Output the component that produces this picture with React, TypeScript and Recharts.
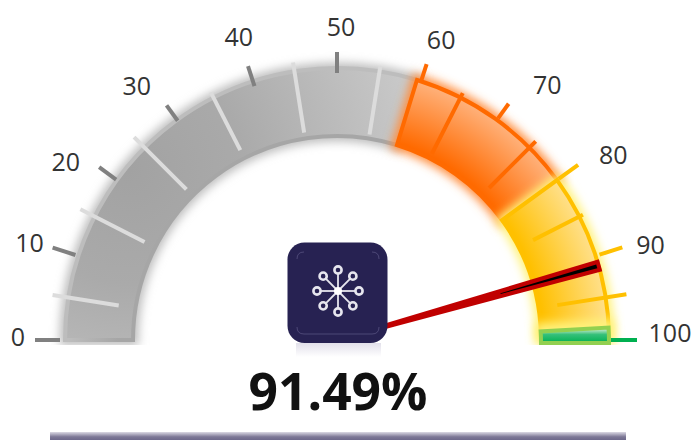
import { PieChart, Pie, Sector } from "recharts";

const segmentValues = [59.5, 20.5, 18.2, 1.8];
const scaleSteps = [0, 10, 20, 30, 40, 50, 60, 70, 80, 90];
const scaleMax = 100;
const needleValue = 91.2;
const readout = "91.49%";

const CX = 337;
const CY = 340;
const INNER = 204;
const OUTER = 272;

const SEGMENT_FILLS = ["url(#greyFill)", "url(#orangeFill)", "url(#yellowFill)", "url(#greenFill)"];
const SEGMENT_STROKES = ["url(#greyStroke)", "#ff6a00", "#ffc000", "#92d050"];
const GLOW_COLORS = ["#bdbdbd", "#ff8f40", "#fff27a", "#fff27a"];
// the green cap hangs a little under the baseline, the yellow runs on beneath it
const SEGMENT_SHIFT = [0, 0, 0, 3];
const SEGMENT_TRIM = [0, 0, 2, 0];

// the original's ticks are hand placed, so reach differs per tick
const MAJOR_FROM = [277, 275, 273, 271, 267, 267, 273, 274, 274, 276, 274];
const MAJOR_TO = [302, 299, 294, 290, 288, 288, 290, 292, 298, 300, 300];
const MINOR_FROM = [221, 216, 213, 213, 210, 208, 209, 215, 220, 223];
const MINOR_TO = [288, 288, 287, 278, 281, 277, 277, 281, 276, 293];
const LABEL_SHIFT = [
  [3, -4],
  [2, -11],
  [-1, -8],
  [2, -11],
  [9, -7],
  [-1, 2],
  [-13, -4],
  [-2, -12],
  [-4, -15],
  [-6, -9],
  [1, -8],
];

const point = (angle: number, r: number, cx = CX, cy = CY) => ({
  x: cx + r * Math.cos((angle * Math.PI) / 180),
  y: cy - r * Math.sin((angle * Math.PI) / 180),
});

const valueColor = (v: number, grey: string) => {
  if (v >= 100) return "#00b050";
  if (v >= 80) return "#ffc000";
  if (v >= 60) return "#ff6a00";
  return grey;
};

const BandShape = (props: any) => {
  const { payload, endAngle } = props;
  const sector = { ...props, endAngle: endAngle - payload.trim };
  return (
    <g>
      <g clipPath="url(#bandClip)">
        <Sector {...sector} fill={payload.glow} stroke={payload.glow} strokeWidth={11} filter="url(#glow)" />
      </g>
      <g transform={`translate(0 ${payload.shift})`}>
        <Sector {...sector} fill={payload.fill} stroke={payload.stroke} strokeWidth={4} />
      </g>
    </g>
  );
};

const MajorTick = ({ value, angle }: { value: number; angle: number }) => {
  const i = value / 10;
  const start = point(angle, MAJOR_FROM[i]);
  const end = point(angle, MAJOR_TO[i]);
  // labels lag the tick angle a little away from the ends and the top
  const labelRad = ((angle - 3.5 * Math.sin((2 * angle * Math.PI) / 180)) * Math.PI) / 180;
  const x = 342 + 327 * Math.cos(labelRad) + LABEL_SHIFT[i][0];
  const y = CY - 316 * Math.sin(labelRad) + LABEL_SHIFT[i][1];
  return (
    <g>
      <line x1={start.x} y1={start.y} x2={end.x} y2={end.y} stroke={valueColor(value, "#808080")} strokeWidth={4} />
      <text
        x={x}
        y={y}
        textAnchor="middle"
        dominantBaseline="central"
        fontFamily="'Open Sans', sans-serif"
        fontSize={25}
        fill="#333"
      >
        {value}
      </text>
    </g>
  );
};

const TickShape = (props: any) => {
  const { startAngle, endAngle, payload } = props;
  const value = payload.step;
  const i = value / 10;
  const mid = (startAngle + endAngle) / 2;
  const a = point(mid, MINOR_FROM[i]);
  const b = point(mid, MINOR_TO[i]);
  return (
    <g>
      <line x1={a.x} y1={a.y} x2={b.x} y2={b.y} stroke={valueColor(value + 5, "#dcdcdc")} strokeWidth={4} />
      <MajorTick value={value} angle={startAngle} />
      {value + 10 === scaleMax && <MajorTick value={scaleMax} angle={endAngle} />}
    </g>
  );
};

const NeedleShape = (props: any) => {
  if (props.payload.hidden) return null;
  const angle = props.endAngle;
  const along = (r: number, w: number) => {
    const p = point(angle, r);
    const nx = Math.sin((angle * Math.PI) / 180) * w;
    const ny = Math.cos((angle * Math.PI) / 180) * w;
    return [`${p.x + nx},${p.y + ny}`, `${p.x - nx},${p.y - ny}`];
  };
  const [a1, a2] = along(40, 2.6);
  const [b1, b2] = along(274, 6.2);
  const [c1, c2] = along(170, 0.3);
  const [d1, d2] = along(270, 2);
  return (
    <g>
      <polygon points={`${a1} ${b1} ${b2} ${a2}`} fill="#c00000" />
      <polygon points={`${c1} ${d1} ${d2} ${c2}`} fill="#000" />
    </g>
  );
};

const NODE_ANGLES = [0, 45, 90, 135, 180, 225, 270, 315];

const Overlay = () => {
  const c = { x: 338, y: 291 };
  return (
    <svg
      width={696}
      height={440}
      style={{ position: "absolute", left: 0, top: 0, pointerEvents: "none" }}
    >
      <defs>
        <linearGradient id="reflection" x1="0" y1="0" x2="0" y2="1">
          <stop offset="0" stopColor="#e2e0ea" />
          <stop offset="1" stopColor="#ffffff" />
        </linearGradient>
        <linearGradient id="baseBar" x1="0" y1="0" x2="0" y2="1">
          <stop offset="0" stopColor="#dcdae4" />
          <stop offset="0.6" stopColor="#7d7896" />
          <stop offset="1" stopColor="#6d688a" />
        </linearGradient>
      </defs>
      <rect x={296} y={343} width={85} height={14} fill="url(#reflection)" />
      <rect x={287.5} y={242.5} width={100} height={100.5} rx={17} fill="#272252" />
      <path
        d="M297 259 Q297 252 304 252 M372 252 Q379 252 379 259 M297 327 Q297 334 304 334 L372 334 Q379 334 379 327"
        fill="none"
        stroke="#4d4877"
        strokeWidth={1}
      />
      {NODE_ANGLES.map((a) => {
        const inner = point(a, 17, c.x, c.y);
        const node = point(a, 21, c.x, c.y);
        return (
          <g key={a} stroke="#e6e6ee" strokeWidth={2.6} fill="none">
            <line x1={c.x} y1={c.y} x2={inner.x} y2={inner.y} strokeWidth={1.8} />
            <circle cx={node.x} cy={node.y} r={3.6} />
          </g>
        );
      })}
      <circle cx={c.x} cy={c.y} r={4} fill="#ffffff" />
      <text
        x={338}
        y={410}
        textAnchor="middle"
        fontFamily="'Open Sans', sans-serif"
        fontWeight={700}
        fontSize={51.5}
        fill="#111"
      >
        {readout}
      </text>
      <rect x={50} y={432} width={576} height={8} fill="url(#baseBar)" />
    </svg>
  );
};

export default function App() {
  const bandData = segmentValues.map((value, i) => ({
    value,
    fill: SEGMENT_FILLS[i],
    stroke: SEGMENT_STROKES[i],
    glow: GLOW_COLORS[i],
    shift: SEGMENT_SHIFT[i],
    trim: SEGMENT_TRIM[i],
  }));
  const tickData = scaleSteps.map((step) => ({ step, value: 10 }));
  const needleData = [
    { value: needleValue, hidden: false },
    { value: scaleMax - needleValue, hidden: true },
  ];
  const arc = {
    cx: CX,
    cy: CY,
    startAngle: 180,
    endAngle: 0,
    dataKey: "value",
    isAnimationActive: false,
    stroke: "none",
  };

  return (
    <div style={{ position: "absolute", left: 0, top: 0, width: 696, height: 440, background: "#fff" }}>
      <PieChart width={696} height={440} margin={{ top: 0, right: 0, bottom: 0, left: 0 }}>
        <defs>
          <filter id="glow" x="0" y="0" width="696" height="440" filterUnits="userSpaceOnUse">
            <feGaussianBlur stdDeviation="5" />
          </filter>
          <clipPath id="bandClip">
            <rect x="0" y="0" width="696" height="345" />
          </clipPath>
          <radialGradient id="greyFill" gradientUnits="userSpaceOnUse" cx="130" cy="170" r="285">
            <stop offset="0" stopColor="#a2a2a2" />
            <stop offset="0.4" stopColor="#aaaaaa" />
            <stop offset="1" stopColor="#c8c8c8" />
          </radialGradient>
          <radialGradient id="greyStroke" gradientUnits="userSpaceOnUse" cx={CX} cy={CY} r={OUTER + 2}>
            <stop offset="0.8" stopColor="#a6a6a6" />
            <stop offset="0.98" stopColor="#bdbdbd" />
          </radialGradient>
          <radialGradient id="orangeFill" gradientUnits="userSpaceOnUse" cx={CX} cy={CY} r={OUTER}>
            <stop offset="0.76" stopColor="#ff6a00" />
            <stop offset="1" stopColor="#ffb27c" />
          </radialGradient>
          <radialGradient id="yellowFill" gradientUnits="userSpaceOnUse" cx={CX} cy={CY} r={OUTER}>
            <stop offset="0.76" stopColor="#ffc000" />
            <stop offset="1" stopColor="#ffe08c" />
          </radialGradient>
          <linearGradient id="greenFill" x1="0" y1="0" x2="0" y2="1">
            <stop offset="0.15" stopColor="#b4e4c2" />
            <stop offset="0.45" stopColor="#35c07a" />
            <stop offset="1" stopColor="#00b050" />
          </linearGradient>
        </defs>
        <Pie {...arc} data={bandData} innerRadius={INNER} outerRadius={OUTER} shape={BandShape} />
        <Pie {...arc} data={tickData} innerRadius={INNER} outerRadius={OUTER} shape={TickShape} />
        <Pie {...arc} data={needleData} innerRadius={0} outerRadius={OUTER} shape={NeedleShape} />
      </PieChart>
      <Overlay />
    </div>
  );
}
